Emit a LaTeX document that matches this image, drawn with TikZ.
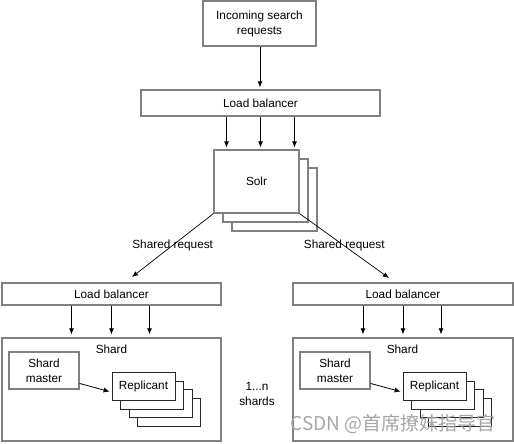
\documentclass[tikz,border=0pt]{standalone}
\usepackage{fontspec}
\setmainfont{Liberation Sans}
\newfontfamily\cjkfont{Noto Sans CJK SC}
\usetikzlibrary{arrows.meta,positioning}
\tikzset{
  gbox/.style={draw=black!50, line width=1.4pt, fill=white, align=center,
               font=\fontsize{11.8}{15}\selectfont, inner sep=0pt},
  rbox/.style={draw=black!85, line width=0.9pt, fill=white, align=center,
               font=\fontsize{11.8}{15}\selectfont, inner sep=0pt,
               minimum width=63pt, minimum height=28pt},
  txt/.style={align=center, font=\fontsize{11.8}{15}\selectfont, inner sep=0pt},
  flow/.style={-{Latex[length=6pt,width=5pt]}, line width=0.8pt},
}

\begin{document}
\begin{tikzpicture}[x=1pt, y=-1pt]
  \useasboundingbox (0,0) rectangle (514,444);
  \node[gbox, minimum width=113pt, minimum height=45pt] (incoming) at (259.5,23.5) {Incoming search\\ requests};
  \node[gbox, minimum width=239pt, minimum height=26pt] (lbtop) at (260.5,103) {Load balancer};
  % solr stack
  \foreach \k in {18,9}
    \node[gbox, line width=1.2pt, minimum width=85pt, minimum height=63pt] at (256.5+\k,181.5+\k) {};
  \node[gbox, line width=1.2pt, minimum width=85pt, minimum height=63pt] (solr) at (256.5,181.5) {Solr};
  \draw[flow, shorten >=2pt] ([xshift=0.5pt]incoming.south) -- ([xshift=0.5pt]incoming.south |- lbtop.north);
  \foreach \dx in {-34,0,34}
    \draw[flow, shorten >=2pt] ([xshift=\dx pt]lbtop.south) -- ([xshift=\dx pt]lbtop.south |- solr.north);

  % left shard
  \node[gbox, minimum width=219pt, minimum height=22pt] (lbleft) at (111.5,294) {Load balancer};
  \node[gbox, minimum width=219pt, minimum height=103pt] (shardleft) at (111.5,389.5) {};
  \node[txt] (shardlefttxt) at (111.5,349) {Shard};
  \node[gbox, line width=1.1pt, minimum width=70pt, minimum height=37pt] (masterleft) at (44,370.5) {Shard\\ master};
  \foreach \k in {25.5,17,8.5}
    \node[rbox] at (143.5+\k,386.5+\k) {};
  \node[rbox] (repleft) at (143.5,386.5) {Replicant};
  \foreach \dx in {-40,0,38}
    \draw[flow, shorten >=3pt] ([xshift=\dx pt]lbleft.south) -- ([xshift=\dx pt]lbleft.south |- shardleft.north);
  \draw[flow, shorten >=2pt] (masterleft.-20) -- (repleft.190);

  % right shard
  \node[gbox, minimum width=220pt, minimum height=22pt] (lbright) at (403,294) {Load balancer};
  \node[gbox, minimum width=220pt, minimum height=103pt] (shardright) at (403,389.5) {};
  \node[txt] (shardrighttxt) at (402.5,349) {Shard};
  \node[gbox, line width=1.1pt, minimum width=70pt, minimum height=37pt] (masterright) at (335,370.5) {Shard\\ master};
  \foreach \k in {25.5,17,8.5}
    \node[rbox] at (434.5+\k,386.5+\k) {};
  \node[rbox] (repright) at (434.5,386.5) {Replicant};
  \foreach \dx in {-40,0,38}
    \draw[flow, shorten >=3pt] ([xshift=\dx pt]lbright.south) -- ([xshift=\dx pt]lbright.south |- shardright.north);
  \draw[flow, shorten >=2pt] (masterright.-20) -- (repright.190);

  % shared requests
  \coordinate (toleft) at (132,277);
  \coordinate (toright) at (389,278);
  \draw[flow, line width=0.7pt] (solr.south west) -- node[txt] (sharedleft) {Shared request} (toleft);
  \draw[flow, line width=0.7pt] (solr.south east) -- node[txt] (sharedright) {Shared request} (toright);

  \node[txt] (nshards) at (257,394) {1...n\\ shards};
  \node[text=black!35, inner sep=0pt, font=\cjkfont\fontsize{19}{19}\selectfont] (mark) at (393,424) {CSDN @首席撩妹指导官};
\end{tikzpicture}
\end{document}
